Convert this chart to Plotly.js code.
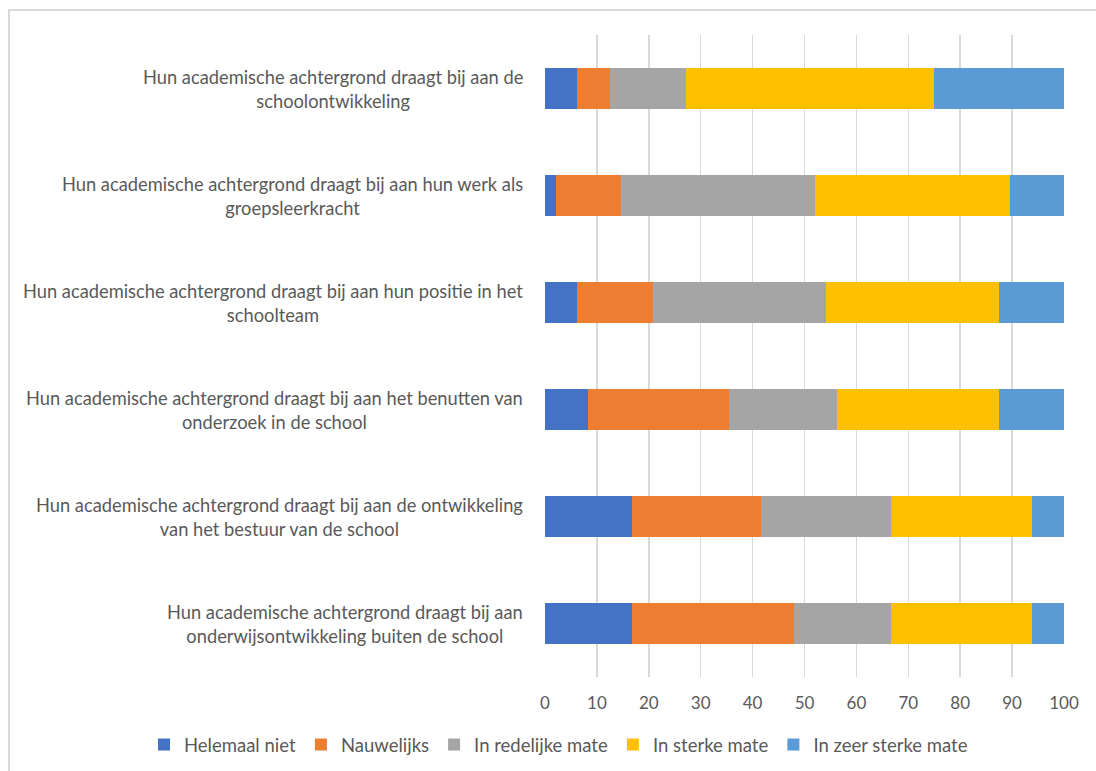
<!DOCTYPE html>
<html>
<head>
<meta charset="utf-8">
<script src="https://cdn.plot.ly/plotly-3.0.1.min.js"></script>
<style>
html,body{margin:0;padding:0;width:1096px;height:771px;overflow:hidden;background:#fff;}
#chart{position:absolute;left:0;top:0;width:1096px;height:771px;}
#frame{position:absolute;left:8px;top:9px;width:1200px;height:900px;border:2px solid #d9d9d9;pointer-events:none;box-sizing:border-box;}
</style>
</head>
<body>
<div id="chart"></div>
<div id="frame"></div>
<script>
const categories = [
  "Hun academische achtergrond draagt bij aan de<br>schoolontwikkeling",
  "Hun academische achtergrond draagt bij aan hun werk als<br>groepsleerkracht",
  "Hun academische achtergrond draagt bij aan hun positie in het<br>schoolteam",
  "Hun academische achtergrond draagt bij aan het benutten van<br>onderzoek in de school",
  "Hun academische achtergrond draagt bij aan de ontwikkeling<br>van het bestuur van de school",
  "Hun academische achtergrond draagt bij aan<br>onderwijsontwikkeling buiten de school"
];
const seriesNames = ["Helemaal niet", "Nauwelijks", "In redelijke mate", "In sterke mate", "In zeer sterke mate"];
const helemaalNiet    = [6.25, 2.08, 6.25, 8.33, 16.67, 16.67];
const nauwelijks      = [6.25, 12.50, 14.58, 27.08, 25.00, 31.25];
const inRedelijkeMate = [14.58, 37.50, 33.33, 20.83, 25.00, 18.75];
const inSterkeMate    = [47.92, 37.50, 33.33, 31.25, 27.08, 27.08];
const inZeerSterkeMate= [25.00, 10.42, 12.50, 12.50, 6.25, 6.25];
const xTicks = [0,10,20,30,40,50,60,70,80,90,100];

const seriesValues = [helemaalNiet, nauwelijks, inRedelijkeMate, inSterkeMate, inZeerSterkeMate];
const colors = ["#4472C4", "#ED7D31", "#A5A5A5", "#FFC000", "#5B9BD5"];
const FONT = "Lato, 'Liberation Sans', sans-serif";
const TXT = "#595959";

const traces = seriesNames.map((name, i) => ({
  type: "bar",
  orientation: "h",
  name: name,
  x: seriesValues[i],
  y: categories,
  marker: {color: colors[i], line: {width: 0}},
  hoverinfo: "x+name"
}));

const annotations = categories.map(c => ({
  xref: "paper", yref: "y",
  x: -20/519, y: c,
  xanchor: "right", yanchor: "middle",
  align: "center",
  text: c,
  showarrow: false,
  font: {family: FONT, size: 18.3, color: TXT}
}));

const layout = {
  width: 1096, height: 771,
  margin: {l: 545, r: 32, t: 35, b: 94, pad: 0, autoexpand: false},
  paper_bgcolor: "#fff", plot_bgcolor: "#fff",
  barmode: "stack",
  bargap: 0.61,
  showlegend: true,
  legend: {
    orientation: "h",
    x: (144 - 545) / 519, xanchor: "left",
    y: -68 / 642, yanchor: "middle",
    font: {family: FONT, size: 18.5, color: TXT},
    itemwidth: 30,
    itemclick: false, traceorder: "normal"
  },
  xaxis: {
    range: [0, 100],
    tickvals: xTicks,
    ticktext: xTicks.map(String),
    showgrid: true, gridcolor: "#d9d9d9", gridwidth: 1.5,
    zeroline: false, showline: false,
    ticks: "", ticklabelstandoff: 14,
    tickfont: {family: FONT, size: 17, color: TXT},
    fixedrange: true,
    automargin: false
  },
  yaxis: {
    type: "category",
    autorange: "reversed",
    showticklabels: false,
    showgrid: false, zeroline: false, showline: false,
    ticks: "",
    fixedrange: true,
    automargin: false
  },
  annotations: annotations,
  font: {family: FONT, color: TXT}
};

Plotly.newPlot("chart", traces, layout, {displayModeBar: false, staticPlot: true});
</script>
</body>
</html>
